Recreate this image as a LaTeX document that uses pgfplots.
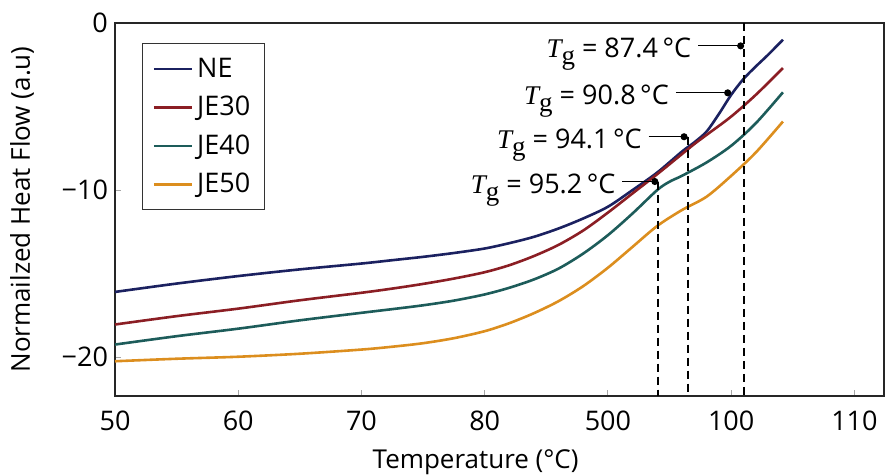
\documentclass[border=0pt]{standalone}
\usepackage{fontspec}
\setmainfont{Open Sans}
\newfontfamily\tgserif{Liberation Serif}
\usepackage{pgfplots}
\pgfplotsset{compat=1.18}
\usetikzlibrary{arrows.meta}
\definecolor{cNE}{HTML}{1B2160}
\definecolor{cJE30}{HTML}{8B1E24}
\definecolor{cJE40}{HTML}{1D5C5A}
\definecolor{cJE50}{HTML}{DC8E1E}
\newcommand{\Tg}{{\tgserif\itshape T}\raisebox{-0.45ex}{\tgserif g}}
\begin{document}
\begin{tikzpicture}
\begin{axis}[
 scale only axis, width=384.5pt, height=186.5pt,
 xmin=50, xmax=112.4, ymin=-22.33, ymax=0,
 xtick={50,60,...,110}, xticklabels={50,60,70,80,500,100,110},
 ytick={-20,-10,0}, yticklabels={−20,−10,0},
 xtick pos=bottom, ytick pos=left, tick align=inside,
 major tick length=3pt,
 tick style={gray!70, line width=0.5pt},
 axis line style={line width=0.7pt, black!85},
 ticklabel style={font=\fontsize{13.5}{15}\selectfont},
 xticklabel style={yshift=-4pt},
 /pgf/number format/assume math mode=true,
 xlabel={Temperature (°C)}, ylabel={Normailzed Heat Flow (a.u)},
 label style={font=\fontsize{13}{15}\selectfont},
 xlabel style={at={(axis description cs:0.469,-0.177)}, anchor=center},
 ylabel style={at={(axis description cs:-0.121,0.5)}, anchor=center},
 legend style={at={(axis description cs:0.0351,0.946)}, anchor=north west, draw=black!80, line width=0.6pt, font=\fontsize{13.5}{15}\selectfont, row sep=4pt, inner xsep=5pt, inner ysep=5pt, cells={anchor=west}},
 legend image code/.code={\draw[#1] (0pt,0pt) -- (19pt,0pt);},
 clip=false,
]
\addplot[cNE, line width=1.3pt, smooth] coordinates {
(50,-16.1) (55,-15.6) (60,-15.15) (65,-14.75) (70,-14.4) (72.5,-14.2) (75,-14.0)
(77.5,-13.77) (80,-13.5) (82,-13.18) (84,-12.8) (86,-12.3) (88,-11.7) (90,-11.0)
(92,-10.0) (94,-8.95) (96,-7.7) (97,-7.15) (98,-6.5) (99,-5.45) (100,-4.3)
(101,-3.35) (102,-2.6) (103,-1.9) (104.2,-1.0)};
\addlegendentry{NE}
\addplot[cJE30, line width=1.3pt, smooth] coordinates {
(50,-18.05) (55,-17.55) (60,-17.1) (65,-16.6) (70,-16.15) (72.5,-15.9) (75,-15.62)
(77.5,-15.3) (80,-14.92) (82,-14.5) (84,-13.95) (86,-13.28) (88,-12.42) (90,-11.35)
(92,-10.2) (94,-9.05) (96,-7.85) (97,-7.25) (98,-6.7) (100,-5.6) (102,-4.3) (104.2,-2.7)};
\addlegendentry{JE30}
\addplot[cJE40, line width=1.3pt, smooth] coordinates {
(50,-19.25) (55,-18.75) (60,-18.3) (65,-17.8) (70,-17.35) (72.5,-17.13) (75,-16.9)
(77.5,-16.62) (80,-16.25) (82,-15.85) (84,-15.35) (86,-14.7) (88,-13.8) (90,-12.7)
(92,-11.4) (94,-10.0) (95,-9.5) (96,-9.15) (98,-8.35) (100,-7.35) (102,-6.0) (104.2,-4.15)};
\addlegendentry{JE40}
\addplot[cJE50, line width=1.3pt, smooth] coordinates {
(50,-20.25) (55,-20.1) (60,-19.98) (65,-19.8) (70,-19.55) (72.5,-19.38) (75,-19.17)
(77.5,-18.87) (80,-18.45) (82,-17.97) (84,-17.37) (86,-16.65) (88,-15.75) (90,-14.65)
(92,-13.4) (94,-12.15) (96,-11.2) (98,-10.4) (100,-9.15) (102,-7.75) (104.2,-5.9)};
\addlegendentry{JE50}
% dashed Tg lines
\addplot[black, line width=1pt, dash pattern=on 4pt off 2.5pt, forget plot] coordinates {(94.09,-9.49) (94.09,-22.33)};
\addplot[black, line width=1pt, dash pattern=on 4pt off 2.5pt, forget plot] coordinates {(96.46,-6.81) (96.46,-22.33)};
\addplot[black, line width=1pt, dash pattern=on 4pt off 2.5pt, forget plot] coordinates {(101.05,0) (101.05,-22.33)};
% annotations
\draw[-{Circle[length=3.5pt]}, line width=0.6pt] (axis cs:97.32,-1.37) -- (axis cs:101.05,-1.37);
\node[anchor=base east, yshift=-6pt, font=\fontsize{13.5}{15}\selectfont] at (axis cs:97.32,-1.37) {\Tg{} = 87.4\,°C};
\draw[-{Circle[length=3.5pt]}, line width=0.6pt] (axis cs:95.51,-4.18) -- (axis cs:100.0,-4.18);
\node[anchor=base east, yshift=-6pt, font=\fontsize{13.5}{15}\selectfont] at (axis cs:95.51,-4.18) {\Tg{} = 90.8\,°C};
\draw[-{Circle[length=3.5pt]}, line width=0.6pt] (axis cs:93.31,-6.81) -- (axis cs:96.46,-6.81);
\node[anchor=base east, yshift=-6pt, font=\fontsize{13.5}{15}\selectfont] at (axis cs:93.31,-6.81) {\Tg{} = 94.1\,°C};
\draw[-{Circle[length=3.5pt]}, line width=0.6pt] (axis cs:91.18,-9.49) -- (axis cs:94.09,-9.49);
\node[anchor=base east, yshift=-6pt, font=\fontsize{13.5}{15}\selectfont] at (axis cs:91.18,-9.49) {\Tg{} = 95.2\,°C};
\end{axis}
\pgfresetboundingbox
\path ([shift={(-57.5pt,-39.5pt)}]current axis.south west) rectangle ([shift={(1.5pt,11.5pt)}]current axis.north east);
\end{tikzpicture}
\end{document}
